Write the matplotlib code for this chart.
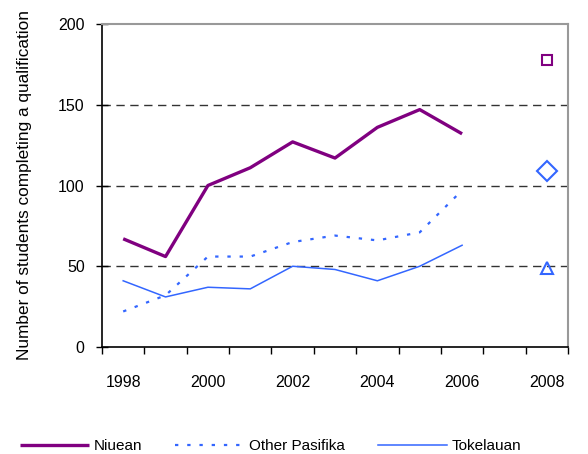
import matplotlib
matplotlib.use("Agg")
import matplotlib.pyplot as plt
import numpy as np

plt.rcParams['font.family'] = ['Liberation Sans', 'DejaVu Sans']

years = ['1998', '1999', '2000', '2001', '2002', '2003', '2004', '2005', '2006', '2007', '2008']
niuean = [67, 56, 100, 111, 127, 117, 136, 147, 132]
other_pasifika = [22, 32, 56, 56, 65, 69, 66, 71, 97]
tokelauan = [41, 31, 37, 36, 50, 48, 41, 50, 63]
# single 2008 values shown as markers
niuean_2008 = 178
other_pasifika_2008 = 109
tokelauan_2008 = 49

purple = '#800080'
blue = '#3366FF'

fig = plt.figure(figsize=(5.88, 4.54), dpi=100)
ax = fig.add_axes([102 / 588, 1 - 347 / 454, 466 / 588, 323 / 454])

x = np.arange(len(niuean))
x_last = years.index('2008')

ax.plot(x, niuean, color=purple, lw=2.4, label='Niuean', solid_capstyle='butt')
ax.plot(x, other_pasifika, color=blue, lw=1.6, linestyle=(0, (1.5, 4)), label='Other Pasifika')
ax.plot(x, tokelauan, color=blue, lw=1.1, label='Tokelauan')

ax.plot([x_last], [niuean_2008], marker='s', ms=7, mfc='none', mec=purple, mew=1.5, ls='none')
ax.plot([x_last], [other_pasifika_2008], marker='D', ms=10, mfc='none', mec=blue, mew=1.5, ls='none')
ax.plot([x_last], [tokelauan_2008], marker='^', ms=9, mfc='none', mec=blue, mew=1.5, ls='none')

ax.set_ylim(0, 200)
ax.set_xlim(-0.5, len(years) - 0.5)
ax.set_yticks([0, 50, 100, 150, 200])
for yv in [50, 100, 150]:
    ax.axhline(yv, color='#333333', lw=1, linestyle=(0, (6, 4)), zorder=0)

# category labels every 2 years, tick marks between categories
ax.set_xticks(np.arange(0, len(years), 2))
ax.set_xticklabels(years[::2])
ax.set_xticks(np.arange(-0.5, len(years), 1), minor=True)
ax.tick_params(axis='x', which='major', length=0, pad=20, labelsize=11.5)
ax.tick_params(axis='x', which='minor', direction='out', length=5, width=1)
ax.tick_params(axis='y', direction='inout', length=9, width=1, pad=8, labelsize=11.5)

for s in ['left', 'bottom']:
    ax.spines[s].set_color('black')
    ax.spines[s].set_linewidth(1.2)
for s in ['top', 'right']:
    ax.spines[s].set_color('#999999')
    ax.spines[s].set_linewidth(1.5)

ax.set_ylabel('Number of students completing a qualification', fontsize=12.4, labelpad=19)

fig.legend(loc='center left', bbox_to_anchor=(20 / 588, 1 - 446 / 454), ncol=3,
           frameon=False, fontsize=11, handlelength=4.5, handletextpad=0.3,
           columnspacing=2.2, borderpad=0, borderaxespad=0)

fig.savefig('out.png', dpi=100)
